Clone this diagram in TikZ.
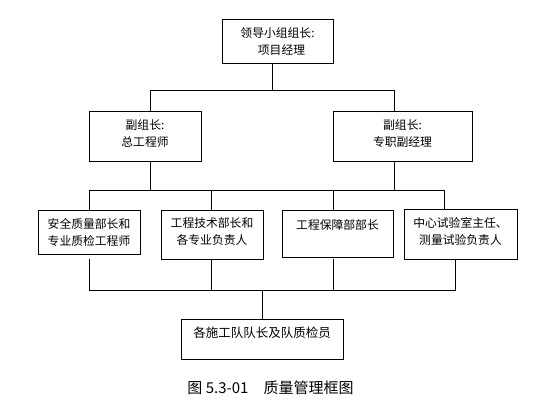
\documentclass[tikz,border=0pt]{standalone}
\usepackage{fontspec}
\setmainfont{Noto Sans CJK SC}
\begin{document}
\begin{tikzpicture}[x=1pt,y=-1pt,
  box/.style={draw=black,line width=0.7pt,inner sep=0pt,align=center,
    font=\fontsize{11.8}{17}\selectfont},
  conn/.style={draw=black,line width=0.7pt}]
\useasboundingbox[fill=white] (0,0) rectangle (554,408);
% boxes
\node[box,minimum width=111pt,minimum height=44pt] (top) at (277.5,41) {领导小组组长:\\\hspace*{8pt}项目经理};
\node[box,minimum width=112pt,minimum height=50pt,text depth=6pt] (L) at (145,136) {副组长:\\总工程师};
\node[box,minimum width=139pt,minimum height=50pt,text depth=6pt] (R) at (402.5,136) {副组长:\\专职副经理};
\node[box,minimum width=102pt,minimum height=44pt] (B1) at (89,232) {安全质量部长和\\专业质检工程师};
\node[box,minimum width=102pt,minimum height=49pt,text depth=6pt] (B2) at (212,234.5) {工程技术部长和\\各专业负责人};
\node[box,minimum width=111pt,minimum height=47pt] (B3) at (337.5,233.5) {工程保障部部长\\\mbox{}};
\node[box,minimum width=113pt,minimum height=50pt,text depth=6pt] (B4) at (460.5,234) {中心试验室主任、\\测量试验负责人};
\node[box,minimum width=162pt,minimum height=40pt,text depth=14pt,font=\fontsize{12.5}{17}\selectfont] (bot) at (262,339) {各施工队队长及队质检员};
\node[font=\fontsize{15}{17}\selectfont,inner sep=0pt] (cap) at (270.5,388) {图 5.3-01\quad 质量管理框图};
% bus coordinates
\coordinate (cA0) at (272,90);
\coordinate (cA1) at (150.5,90);
\coordinate (cA2) at (394,90);
\coordinate (cBL) at (150.5,190);
\coordinate (cBR) at (394,190);
\coordinate (cB1) at (89,190);
\coordinate (cB2) at (211.7,190);
\coordinate (cB3) at (333.3,190);
\coordinate (cB4) at (444,190);
\coordinate (d1) at (89,259);
\coordinate (d3) at (333.3,259);
\coordinate (cC1) at (89,290);
\coordinate (cC2) at (211.7,290);
\coordinate (cC3) at (333.3,290);
\coordinate (cC4) at (455,290);
\coordinate (cCM) at (262.3,290);
% connectors
\draw[conn] (top.south -| cA0) -- (cA0);
\draw[conn] (L.north -| cA1) -- (cA1) -- (cA2) -- (R.north -| cA2);
\draw[conn] (L.south -| cBL) -- (cBL);
\draw[conn] (R.south -| cBR) -- (cBR);
\draw[conn] (B1.north -| cB1) -- (cB1) -- (cB4) -- (B4.north -| cB4);
\draw[conn] (cB2) -- (B2.north -| cB2);
\draw[conn] (cB3) -- (B3.north -| cB3);
\draw[conn] (d1) -- (cC1) -- (cC4) -- (B4.south -| cC4);
\draw[conn] (B2.south -| cC2) -- (cC2);
\draw[conn] (d3) -- (cC3);
\draw[conn] (cCM) -- (bot.north -| cCM);
\end{tikzpicture}
\end{document}
